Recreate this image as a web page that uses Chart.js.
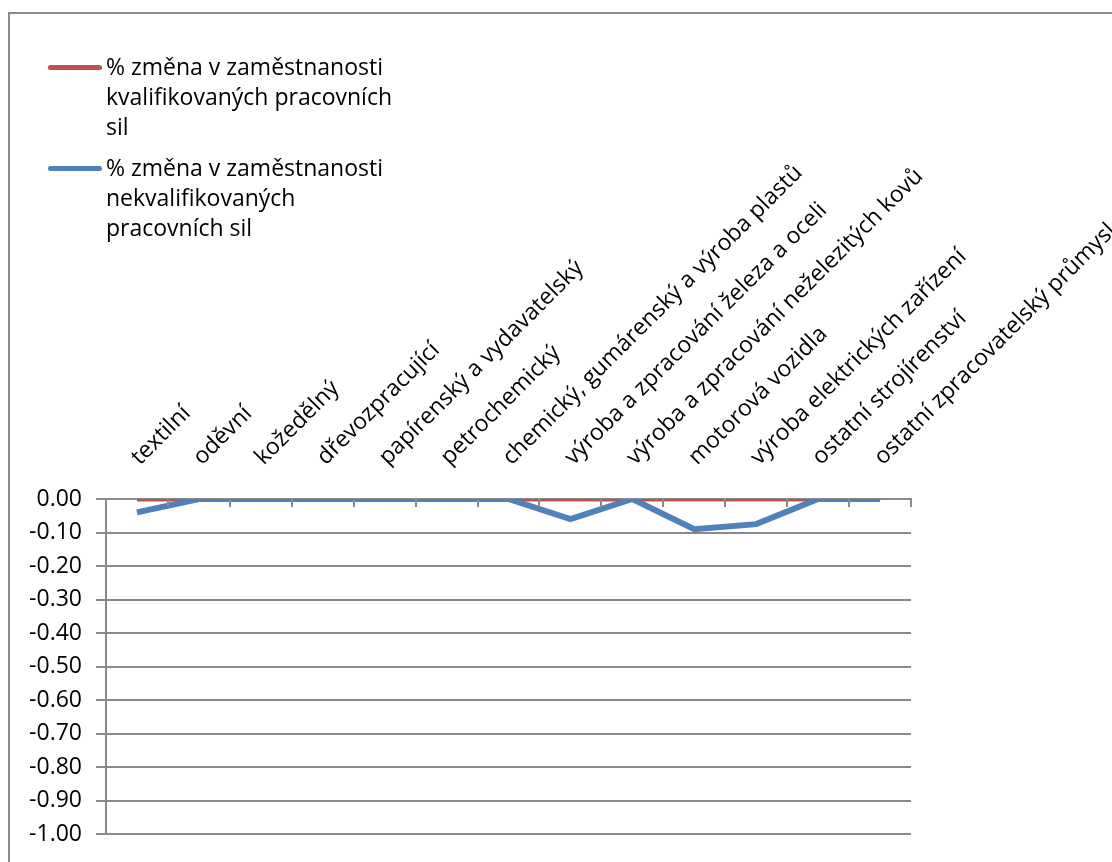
<!DOCTYPE html>
<html>
<head>
<meta charset="utf-8">
<script src="https://cdn.jsdelivr.net/npm/chart.js@4/dist/chart.umd.min.js"></script>
<style>
  html, body { margin: 0; padding: 0; background: #fff; overflow: hidden; }
  #wrap { position: relative; width: 1112px; height: 862px; }
  #frame { position: absolute; left: 8px; top: 12px; width: 1200px; height: 900px;
           border-left: 2px solid #8a8a8a; border-top: 2px solid #8a8a8a; }
  #myChart { position: absolute; left: 0; top: 0; }
  #legend { position: absolute; left: 48px; top: 51px; font-family: "Open Sans", sans-serif;
            font-size: 23px; line-height: 30px; color: #000; }
  .item { position: relative; padding-left: 58px; margin-bottom: 11px; }
  .swatch { position: absolute; left: 0; top: 14px; width: 54px; height: 5px; border-radius: 3px; }
</style>
</head>
<body>
<div id="wrap">
  <div id="frame"></div>
  <canvas id="myChart" width="1112" height="862"></canvas>
  <div id="legend"></div>
</div>
<script>
// Données du graphique
const categories = ['textilní', 'oděvní', 'kožedělný', 'dřevozpracující', 'papírenský a vydavatelský',
  'petrochemický', 'chemický, gumárenský a výroba plastů', 'výroba a zpracování železa a oceli',
  'výroba a zpracování neželezitých kovů', 'motorová vozidla', 'výroba elektrických zařízení',
  'ostatní strojírenství', 'ostatní zpracovatelský průmysl'];

const kvalifikovani = [0, 0, 0, 0, 0, 0, 0, 0, 0, 0, 0, 0, 0];
const nekvalifikovani = [-0.04, 0, 0, 0, 0, 0, 0, -0.06, 0, -0.09, -0.075, 0, 0];

const seriesNames = [
  ['% změna v zaměstnanosti', 'kvalifikovaných pracovních', 'sil'],
  ['% změna v zaměstnanosti', 'nekvalifikovaných', 'pracovních sil']
];
const seriesColors = ['#C0504D', '#4F81BD'];

const yMin = -1.0;
const yMax = 0.0;
const yStep = 0.1;

// Légende en HTML (texte sur plusieurs lignes)
const legend = document.getElementById('legend');
seriesNames.forEach((lines, i) => {
  const item = document.createElement('div');
  item.className = 'item';
  item.innerHTML = '<span class="swatch" style="background:' + seriesColors[i] + '"></span>' + lines.join('<br>');
  legend.appendChild(item);
});

// Petits traits de graduation sous l'axe des catégories
const tickMarks = {
  id: 'tickMarks',
  afterDraw(chart) {
    const x = chart.scales.x;
    const ctx = chart.ctx;
    const top = chart.chartArea.top;
    ctx.save();
    ctx.strokeStyle = '#8a8a8a';
    ctx.lineWidth = 2;
    for (let i = 1; i <= categories.length; i++) {
      const px = Math.round(x.getPixelForValue(i - 0.5));
      ctx.beginPath();
      ctx.moveTo(px, top);
      ctx.lineTo(px, top + 8);
      ctx.stroke();
    }
    ctx.restore();
  }
};

const ctx = document.getElementById('myChart').getContext('2d');
const myChart = new Chart(ctx, {
  type: 'line',
  data: {
    labels: categories,
    datasets: [
      {
        label: seriesNames[1].join(' '),
        data: nekvalifikovani,
        borderColor: seriesColors[1],
        backgroundColor: seriesColors[1],
        borderWidth: 6,
        pointRadius: 0,
        tension: 0
      },
      {
        label: seriesNames[0].join(' '),
        data: kvalifikovani,
        borderColor: seriesColors[0],
        backgroundColor: seriesColors[0],
        borderWidth: 5,
        pointRadius: 0,
        tension: 0
      }
    ]
  },
  options: {
    responsive: false,
    animation: false,
    layout: { padding: { left: 0, top: 0, right: 201, bottom: 25 } },
    plugins: { legend: { display: false }, tooltip: { enabled: false } },
    scales: {
      x: {
        position: 'top',
        offset: true,
        grid: { display: false, drawTicks: false },
        border: { display: true, color: '#8a8a8a', width: 2 },
        ticks: {
          autoSkip: false,
          minRotation: 45,
          maxRotation: 45,
          padding: 37,
          color: '#000',
          font: { family: 'Open Sans', size: 23, lineHeight: 0.1 }
        },
        afterFit(scale) {
          scale.height = 499;
          scale.paddingLeft = 0;
          scale.paddingRight = 0;
        }
      },
      y: {
        min: yMin,
        max: yMax,
        grid: { color: '#8a8a8a', lineWidth: 2, tickLength: 10 },
        border: { display: true, color: '#8a8a8a', width: 2 },
        ticks: {
          stepSize: yStep,
          padding: 14,
          color: '#000',
          font: { family: 'Open Sans', size: 23 },
          callback: value => value.toFixed(2)
        },
        afterFit(scale) {
          scale.width = 106;
        }
      }
    }
  },
  plugins: [tickMarks]
});
</script>
</body>
</html>
